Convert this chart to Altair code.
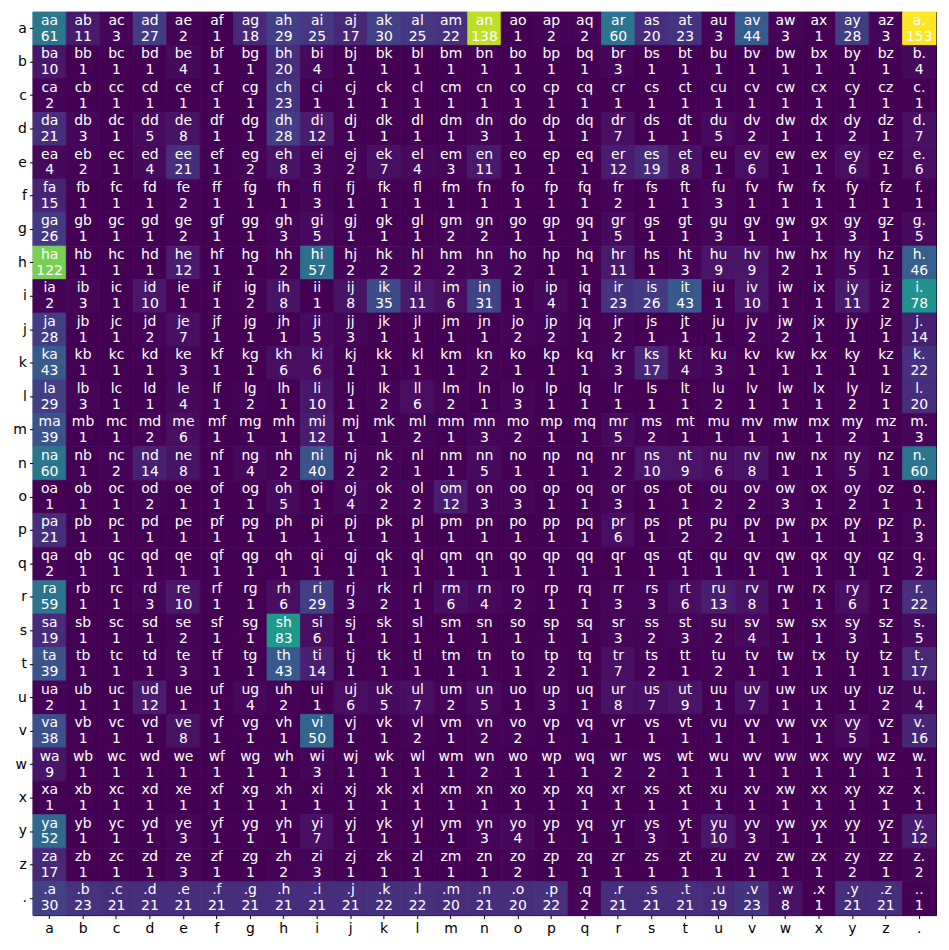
import altair as alt
import pandas as pd

chars = list("abcdefghijklmnopqrstuvwxyz") + ["."]

row_a = [61, 11, 3, 27, 2, 1, 18, 29, 25, 17, 30, 25, 22, 138, 1, 2, 2, 60, 20, 23, 3, 44, 3, 1, 28, 3, 153]
row_b = [10, 1, 1, 1, 4, 1, 1, 20, 4, 1, 1, 1, 1, 1, 1, 1, 1, 3, 1, 1, 1, 1, 1, 1, 1, 1, 4]
row_c = [2, 1, 1, 1, 1, 1, 1, 23, 1, 1, 1, 1, 1, 1, 1, 1, 1, 1, 1, 1, 1, 1, 1, 1, 1, 1, 1]
row_d = [21, 3, 1, 5, 8, 1, 1, 28, 12, 1, 1, 1, 1, 3, 1, 1, 1, 7, 1, 1, 5, 2, 1, 1, 2, 1, 7]
row_e = [4, 2, 1, 4, 21, 1, 2, 8, 3, 2, 7, 4, 3, 11, 1, 1, 1, 12, 19, 8, 1, 6, 1, 1, 6, 1, 6]
row_f = [15, 1, 1, 1, 2, 1, 1, 1, 3, 1, 1, 1, 1, 1, 1, 1, 1, 2, 1, 1, 3, 1, 1, 1, 1, 1, 1]
row_g = [26, 1, 1, 1, 2, 1, 1, 3, 5, 1, 1, 1, 2, 2, 1, 1, 1, 5, 1, 1, 3, 1, 1, 1, 3, 1, 5]
row_h = [122, 1, 1, 1, 12, 1, 1, 2, 57, 2, 2, 2, 2, 3, 2, 1, 1, 11, 1, 3, 9, 9, 2, 1, 5, 1, 46]
row_i = [2, 3, 1, 10, 1, 1, 2, 8, 1, 8, 35, 11, 6, 31, 1, 4, 1, 23, 26, 43, 1, 10, 1, 1, 11, 2, 78]
row_j = [28, 1, 1, 2, 7, 1, 1, 1, 5, 3, 1, 1, 1, 1, 2, 2, 1, 2, 1, 1, 1, 2, 2, 1, 1, 1, 14]
row_k = [43, 1, 1, 1, 3, 1, 1, 6, 6, 1, 1, 1, 1, 2, 1, 1, 1, 3, 17, 4, 3, 1, 1, 1, 1, 1, 22]
row_l = [29, 3, 1, 1, 4, 1, 2, 1, 10, 1, 2, 6, 2, 1, 3, 1, 1, 1, 1, 1, 2, 1, 1, 1, 2, 1, 20]
row_m = [39, 1, 1, 2, 6, 1, 1, 1, 12, 1, 1, 2, 1, 3, 2, 1, 1, 5, 2, 1, 1, 1, 1, 1, 2, 1, 3]
row_n = [60, 1, 2, 14, 8, 1, 4, 2, 40, 2, 2, 1, 1, 5, 1, 1, 1, 2, 10, 9, 6, 8, 1, 1, 5, 1, 60]
row_o = [1, 1, 1, 2, 1, 1, 1, 5, 1, 4, 2, 2, 12, 3, 3, 1, 1, 3, 1, 1, 2, 2, 3, 1, 2, 1, 1]
row_p = [21, 1, 1, 1, 1, 1, 1, 1, 1, 1, 1, 1, 1, 1, 1, 1, 1, 6, 1, 2, 2, 1, 1, 1, 1, 1, 3]
row_q = [2, 1, 1, 1, 1, 1, 1, 1, 1, 1, 1, 1, 1, 1, 1, 1, 1, 1, 1, 1, 1, 1, 1, 1, 1, 1, 2]
row_r = [59, 1, 1, 3, 10, 1, 1, 6, 29, 3, 2, 1, 6, 4, 2, 1, 1, 3, 3, 6, 13, 8, 1, 1, 6, 1, 22]
row_s = [19, 1, 1, 1, 2, 1, 1, 83, 6, 1, 1, 1, 1, 1, 1, 1, 1, 3, 2, 3, 2, 4, 1, 1, 3, 1, 5]
row_t = [39, 1, 1, 1, 3, 1, 1, 43, 14, 1, 1, 1, 1, 1, 1, 2, 1, 7, 2, 1, 2, 1, 1, 1, 1, 1, 17]
row_u = [2, 1, 1, 12, 1, 1, 4, 2, 1, 6, 5, 7, 2, 5, 1, 3, 1, 8, 7, 9, 1, 7, 1, 1, 1, 2, 4]
row_v = [38, 1, 1, 1, 8, 1, 1, 1, 50, 1, 1, 2, 1, 2, 2, 1, 1, 1, 1, 1, 1, 1, 1, 1, 5, 1, 16]
row_w = [9, 1, 1, 1, 1, 1, 1, 1, 3, 1, 1, 1, 1, 2, 1, 1, 1, 2, 2, 1, 1, 1, 1, 1, 1, 1, 1]
row_x = [1, 1, 1, 1, 1, 1, 1, 1, 1, 1, 1, 1, 1, 1, 1, 1, 1, 1, 1, 1, 1, 1, 1, 1, 1, 1, 1]
row_y = [52, 1, 1, 1, 3, 1, 1, 1, 7, 1, 1, 1, 1, 3, 4, 1, 1, 1, 3, 1, 10, 3, 1, 1, 1, 1, 12]
row_z = [17, 1, 1, 1, 3, 1, 1, 2, 3, 1, 1, 1, 1, 1, 2, 1, 1, 1, 1, 1, 1, 1, 1, 1, 2, 1, 2]
row_dot = [30, 23, 21, 21, 21, 21, 21, 21, 21, 21, 22, 22, 20, 21, 20, 22, 2, 21, 21, 21, 19, 23, 8, 1, 21, 21, 1]

rows = [row_a, row_b, row_c, row_d, row_e, row_f, row_g, row_h, row_i, row_j, row_k,
        row_l, row_m, row_n, row_o, row_p, row_q, row_r, row_s, row_t, row_u, row_v,
        row_w, row_x, row_y, row_z, row_dot]

records = []
for i, r in enumerate(chars):
    for j, c in enumerate(chars):
        records.append({"first": r, "second": c, "label": r + c, "count": rows[i][j]})
df = pd.DataFrame(records)

FONT = "DejaVu Sans"

x_enc = alt.X("second:O", sort=chars,
              scale=alt.Scale(paddingInner=0, paddingOuter=0),
              axis=alt.Axis(title=None, labelAngle=0, grid=False, domain=False,
                            tickColor="black", tickSize=3.5, labelPadding=3,
                            labelColor="black", labelFontSize=14, labelFont=FONT))
y_enc = alt.Y("first:O", sort=chars,
              scale=alt.Scale(paddingInner=0, paddingOuter=0),
              axis=alt.Axis(title=None, grid=False, domain=False,
                            tickColor="black", tickSize=3.5, labelPadding=3,
                            labelColor="black", labelFontSize=14, labelFont=FONT))

base = alt.Chart(df).encode(x=x_enc, y=y_enc)

cscale = alt.Scale(scheme="viridis", domain=[1, 153])
rect = base.mark_rect(strokeWidth=0.8).encode(
    color=alt.Color("count:Q", scale=cscale, legend=None),
    stroke=alt.Stroke("count:Q", scale=cscale, legend=None),
)
t1 = base.mark_text(baseline="bottom", color="white", fontSize=14, font=FONT, dy=-1).encode(text="label:N")
t2 = base.mark_text(baseline="top", color="white", fontSize=14, font=FONT, dy=1).encode(text="count:Q")

chart = alt.layer(rect, t1, t2).properties(
    width=907, height=907,
    autosize=alt.AutoSizeParams(type="none"),
    padding={"left": 25, "top": 2, "right": 5, "bottom": 30},
).configure_view(stroke="black", strokeWidth=1)

chart.save("out.html", embed_options={"renderer": "svg", "actions": False})
